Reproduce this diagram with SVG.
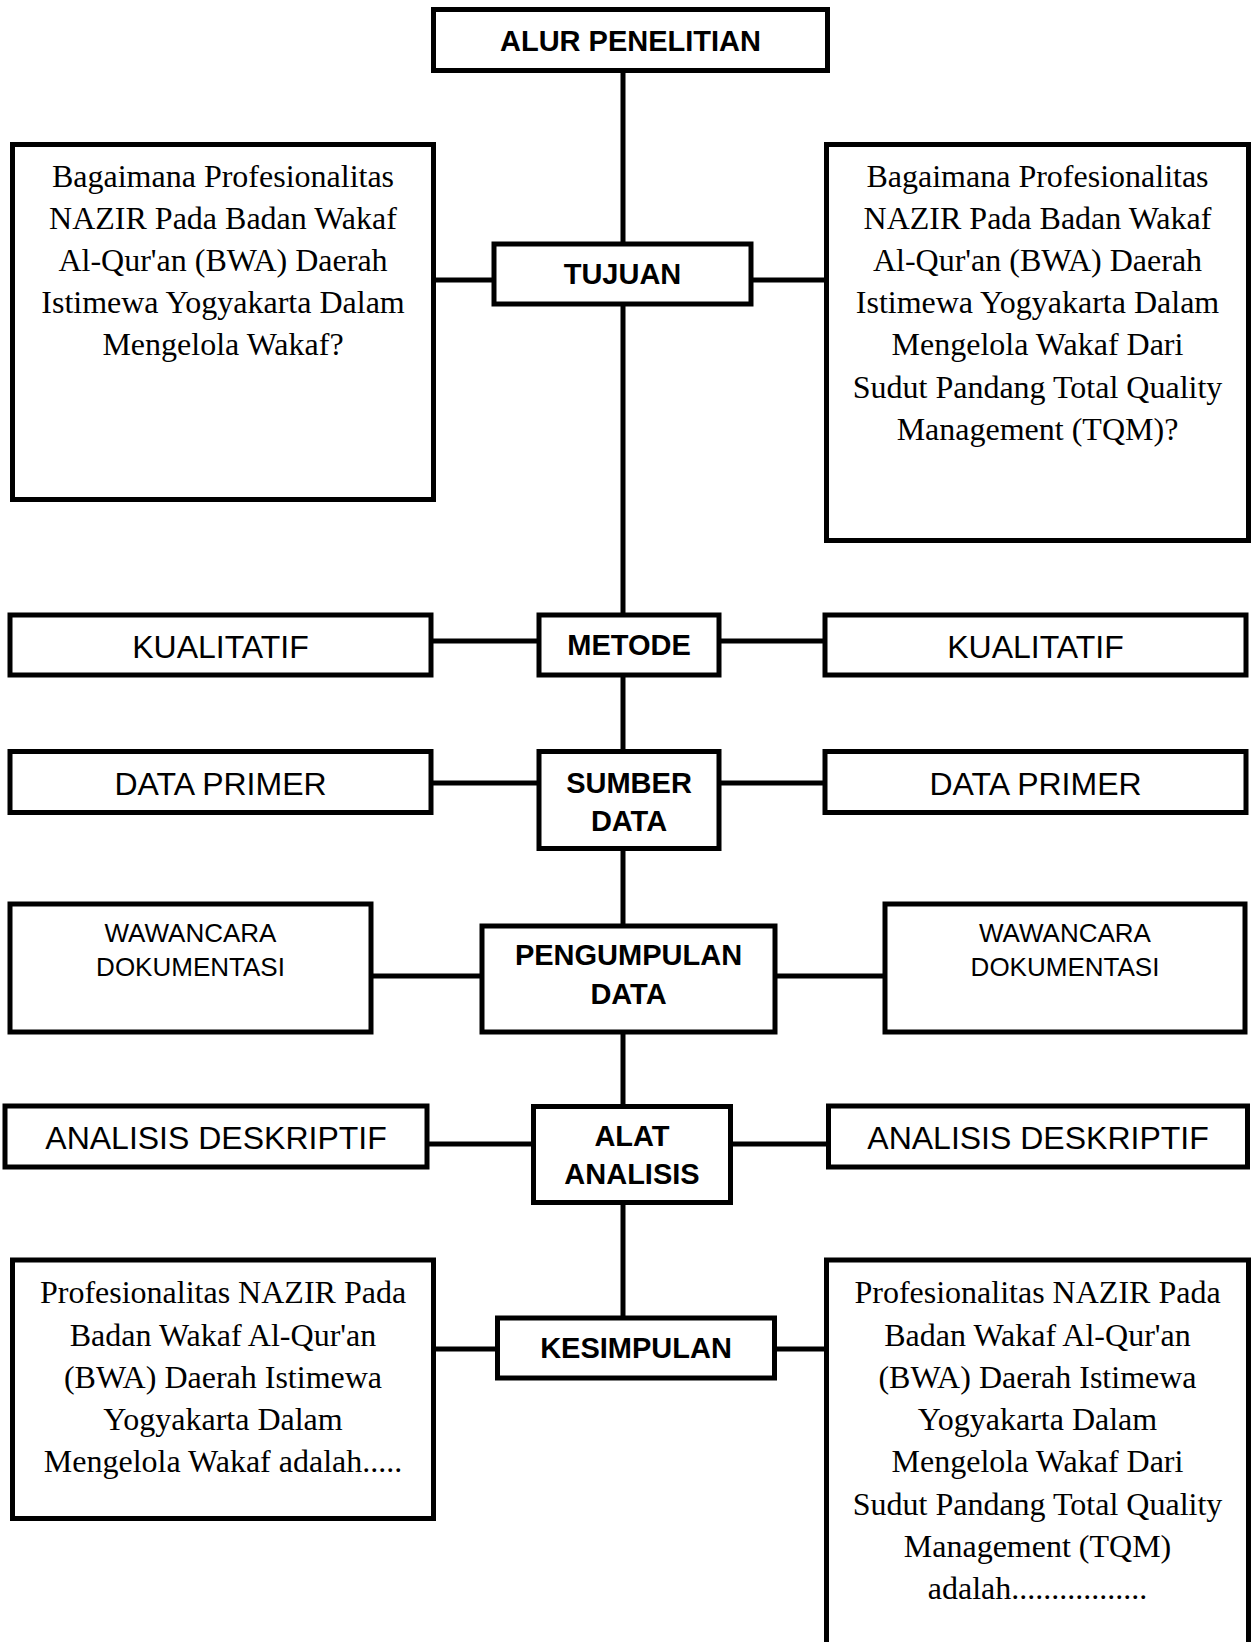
<svg xmlns="http://www.w3.org/2000/svg" width="1259" height="1642" viewBox="0 0 1259 1642">
<style>
.box{fill:#fff;stroke:#000;stroke-width:5}
.ln{stroke:#000;stroke-width:5;fill:none}
.b{font-family:"Liberation Sans",Arial,sans-serif;font-weight:bold;font-size:29px;text-anchor:middle;fill:#000}
.r{font-family:"Liberation Sans",Arial,sans-serif;font-size:32px;text-anchor:middle;fill:#000}
.s{font-family:"Liberation Sans",Arial,sans-serif;font-size:26px;text-anchor:middle;fill:#000}
.t{font-family:"Liberation Serif","Times New Roman",serif;font-size:32px;text-anchor:middle;fill:#000}
</style>
<rect width="1259" height="1642" fill="#fff"/>
<g id="connectors">
<line class="ln" x1="623" y1="72" x2="623" y2="244"/>
<line class="ln" x1="623" y1="304" x2="623" y2="615"/>
<line class="ln" x1="623" y1="675" x2="623" y2="751"/>
<line class="ln" x1="623" y1="848" x2="623" y2="926"/>
<line class="ln" x1="623" y1="1032" x2="623" y2="1106"/>
<line class="ln" x1="623" y1="1203" x2="623" y2="1318"/>
<line class="ln" x1="434" y1="280" x2="494" y2="280"/>
<line class="ln" x1="751" y1="280" x2="827" y2="280"/>
<line class="ln" x1="431" y1="641" x2="539" y2="641"/>
<line class="ln" x1="719" y1="641" x2="825" y2="641"/>
<line class="ln" x1="431" y1="783" x2="539" y2="783"/>
<line class="ln" x1="719" y1="783" x2="825" y2="783"/>
<line class="ln" x1="371" y1="976" x2="482" y2="976"/>
<line class="ln" x1="775" y1="976" x2="885" y2="976"/>
<line class="ln" x1="427" y1="1144" x2="533.5" y2="1144"/>
<line class="ln" x1="730.5" y1="1144" x2="828.5" y2="1144"/>
<line class="ln" x1="433.5" y1="1349" x2="497.5" y2="1349"/>
<line class="ln" x1="774.5" y1="1349" x2="826.5" y2="1349"/>
</g>
<g id="alur">
<rect class="box" x="433.5" y="9.5" width="394" height="61"/>
<text class="b" x="630.5" y="50.5">ALUR PENELITIAN</text>
</g>
<g id="tujuan">
<rect class="box" x="494" y="244" width="257" height="60"/>
<text class="b" x="622.5" y="283.5">TUJUAN</text>
</g>
<g id="tujuan-left">
<rect class="box" x="12.5" y="144.5" width="421" height="355"/>
<text class="t" x="223" y="187">Bagaimana Profesionalitas</text>
<text class="t" x="223" y="229">NAZIR Pada Badan Wakaf</text>
<text class="t" x="223" y="271">Al-Qur'an (BWA) Daerah</text>
<text class="t" x="223" y="313">Istimewa Yogyakarta Dalam</text>
<text class="t" x="223" y="355">Mengelola Wakaf?</text>
</g>
<g id="tujuan-right">
<rect class="box" x="826.5" y="144.5" width="422" height="396"/>
<text class="t" x="1037.5" y="187">Bagaimana Profesionalitas</text>
<text class="t" x="1037.5" y="229">NAZIR Pada Badan Wakaf</text>
<text class="t" x="1037.5" y="271">Al-Qur'an (BWA) Daerah</text>
<text class="t" x="1037.5" y="313">Istimewa Yogyakarta Dalam</text>
<text class="t" x="1037.5" y="355">Mengelola Wakaf Dari</text>
<text class="t" x="1037.5" y="398">Sudut Pandang Total Quality</text>
<text class="t" x="1037.5" y="440">Management (TQM)?</text>
</g>
<g id="metode">
<rect class="box" x="539" y="615" width="180" height="60"/>
<text class="b" x="629" y="655">METODE</text>
</g>
<g id="metode-left">
<rect class="box" x="10" y="615" width="421" height="60"/>
<text class="r" x="220.5" y="658">KUALITATIF</text>
</g>
<g id="metode-right">
<rect class="box" x="825" y="615" width="421" height="60"/>
<text class="r" x="1035.5" y="658">KUALITATIF</text>
</g>
<g id="sumber">
<rect class="box" x="539" y="751.5" width="180" height="97"/>
<text class="b" x="629" y="792.5">SUMBER</text>
<text class="b" x="629" y="830.5">DATA</text>
</g>
<g id="sumber-left">
<rect class="box" x="10" y="751.5" width="421" height="61"/>
<text class="r" x="220.5" y="795">DATA PRIMER</text>
</g>
<g id="sumber-right">
<rect class="box" x="825" y="751.5" width="421" height="61"/>
<text class="r" x="1035.5" y="795">DATA PRIMER</text>
</g>
<g id="pengumpulan">
<rect class="box" x="482" y="926" width="293" height="106"/>
<text class="b" x="628.5" y="965">PENGUMPULAN</text>
<text class="b" x="628.5" y="1004">DATA</text>
</g>
<g id="pengumpulan-left">
<rect class="box" x="10" y="904" width="361" height="128"/>
<text class="s" x="190.5" y="942">WAWANCARA</text>
<text class="s" x="190.5" y="976">DOKUMENTASI</text>
</g>
<g id="pengumpulan-right">
<rect class="box" x="885" y="904" width="360" height="128"/>
<text class="s" x="1065" y="942">WAWANCARA</text>
<text class="s" x="1065" y="976">DOKUMENTASI</text>
</g>
<g id="alat">
<rect class="box" x="533.5" y="1106.5" width="197" height="96"/>
<text class="b" x="632" y="1146">ALAT</text>
<text class="b" x="632" y="1184">ANALISIS</text>
</g>
<g id="alat-left">
<rect class="box" x="5" y="1106" width="422" height="61"/>
<text class="r" x="216" y="1149">ANALISIS DESKRIPTIF</text>
</g>
<g id="alat-right">
<rect class="box" x="828.5" y="1106" width="419" height="61"/>
<text class="r" x="1038" y="1149">ANALISIS DESKRIPTIF</text>
</g>
<g id="kesimpulan">
<rect class="box" x="497.5" y="1318" width="277" height="60"/>
<text class="b" x="636" y="1357.5">KESIMPULAN</text>
</g>
<g id="kesimpulan-left">
<rect class="box" x="12.5" y="1260" width="421" height="258.5"/>
<text class="t" x="223" y="1303">Profesionalitas NAZIR Pada</text>
<text class="t" x="223" y="1345.5">Badan Wakaf Al-Qur'an</text>
<text class="t" x="223" y="1387.5">(BWA) Daerah Istimewa</text>
<text class="t" x="223" y="1430">Yogyakarta Dalam</text>
<text class="t" x="223" y="1472">Mengelola Wakaf adalah.....</text>
</g>
<g id="kesimpulan-right">
<rect class="box" x="826.5" y="1260" width="422" height="420"/>
<text class="t" x="1037.5" y="1303">Profesionalitas NAZIR Pada</text>
<text class="t" x="1037.5" y="1345.5">Badan Wakaf Al-Qur'an</text>
<text class="t" x="1037.5" y="1387.5">(BWA) Daerah Istimewa</text>
<text class="t" x="1037.5" y="1430">Yogyakarta Dalam</text>
<text class="t" x="1037.5" y="1472">Mengelola Wakaf Dari</text>
<text class="t" x="1037.5" y="1514.5">Sudut Pandang Total Quality</text>
<text class="t" x="1037.5" y="1556.5">Management (TQM)</text>
<text class="t" x="1037.5" y="1599">adalah.................</text>
</g>
</svg>
